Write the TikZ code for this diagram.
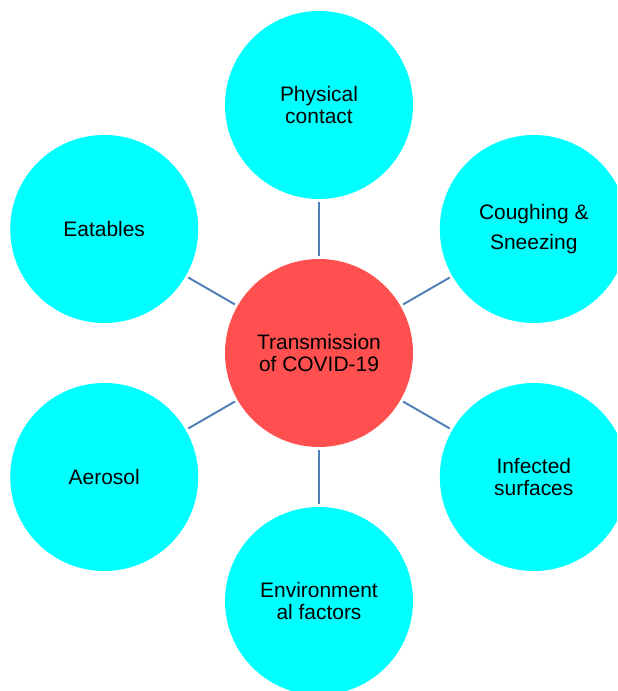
\documentclass[tikz,border=0pt]{standalone}
\usepackage{fontspec}
\setmainfont{Liberation Sans}
\usetikzlibrary{positioning}
\tikzset{>=latex}
\definecolor{hubred}{rgb}{1.0,0.31,0.31}
\definecolor{leafcyan}{rgb}{0,1.0,1.0}
\definecolor{linkblue}{rgb}{0.31,0.5,0.72}
\tikzset{
  hub/.style={circle, fill=hubred, minimum size=4.7cm, inner sep=0pt, align=center,
    font=\fontsize{14.9}{15.6}\selectfont},
  leaf/.style={hub, fill=leafcyan},
  link/.style={draw=linkblue, line width=1.4pt, shorten <=2pt, shorten >=2pt}
}

\begin{document}
\begin{tikzpicture}
      \def\dist{6.2}  % centre to outer circles
      \useasboundingbox (-7.975,-8.45) rectangle (7.45,8.825);
      \clip (-7.975,-8.45) rectangle (7.45,8.825);
      \node[hub] (covid) at (0,0) {Transmission\\of COVID-19};
      \node[leaf] (phys) at (90:\dist) {Physical\\contact};
      \node[leaf] (cough) at (30:\dist) {Coughing \&\\[5.5pt]Sneezing};
      \node[leaf] (surf) at (-30:\dist) {Infected\\surfaces};
      \node[leaf] (env) at (-90:\dist) {Environment\\al factors};
      \node[leaf] (aero) at (-150:\dist) {Aerosol};
      \node[leaf] (eat) at (150:\dist) {Eatables};
      \draw[link] (covid) -- (phys);
      \draw[link] (covid) -- (cough);
      \draw[link] (covid) -- (surf);
      \draw[link] (covid) -- (env);
      \draw[link] (covid) -- (aero);
      \draw[link] (covid) -- (eat);
    \end{tikzpicture}
\end{document}
